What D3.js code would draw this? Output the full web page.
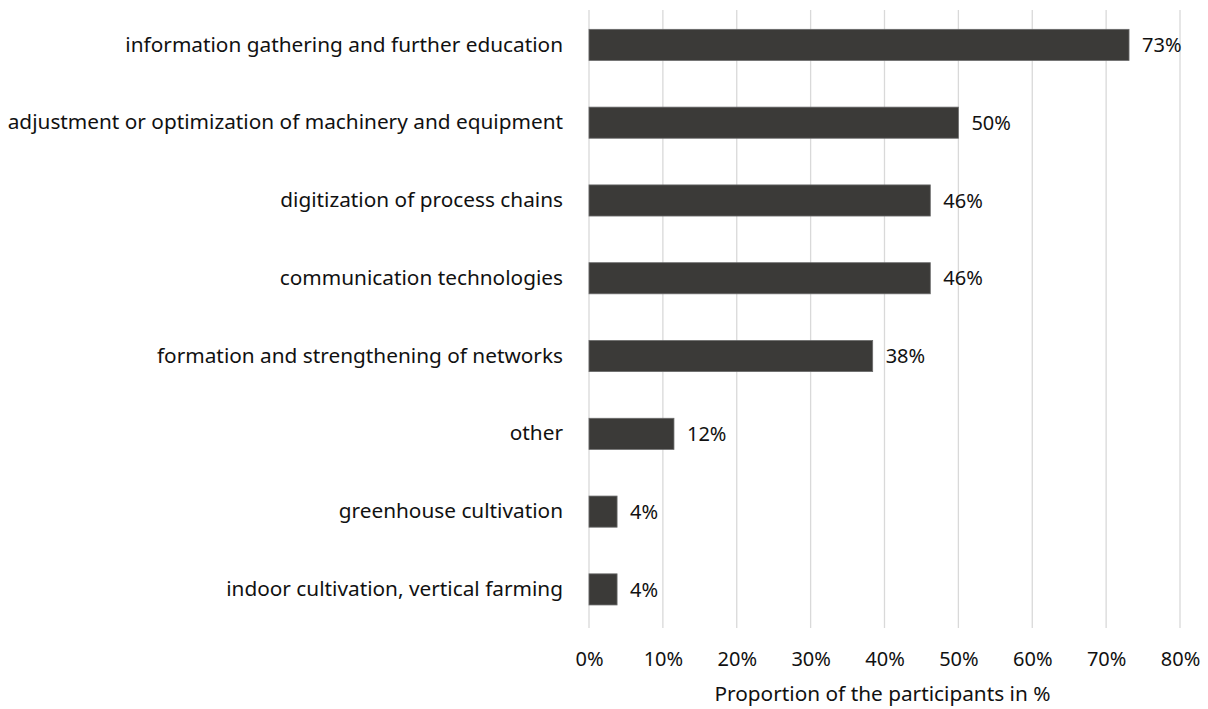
<!DOCTYPE html>
<html><head><meta charset="utf-8">
<script src="https://cdn.jsdelivr.net/npm/d3@7"></script>
<style>body{margin:0;background:#fff}svg{display:block}</style>
</head><body>
<script>
const categories = [
  "information gathering and further education",
  "adjustment or optimization of machinery and equipment",
  "digitization of process chains",
  "communication technologies",
  "formation and strengthening of networks",
  "other",
  "greenhouse cultivation",
  "indoor cultivation, vertical farming"
];
const values = [73.1, 50.0, 46.2, 46.2, 38.4, 11.5, 3.8, 3.8];
const tickValues = [0,10,20,30,40,50,60,70,80];
const axisTitle = "Proportion of the participants in %";

const W = 1208, H = 709;
const plotLeft = 589, plotRight = 1180, gridTop = 10, gridBottom = 628;
const font = "'Noto Sans', 'Open Sans', sans-serif";

const svg = d3.select("body").append("svg").attr("width", W).attr("height", H);
const x = d3.scaleLinear().domain([0,80]).range([plotLeft, plotRight]);
const y = d3.scaleBand().domain(categories).range([6, 628.3]).paddingInner(0.6).paddingOuter(0.3);

// gridlines
svg.append("g").selectAll("line").data(tickValues).join("line")
  .attr("x1", d => x(d)).attr("x2", d => x(d))
  .attr("y1", gridTop).attr("y2", gridBottom)
  .attr("stroke", "#d9d9d9").attr("stroke-width", 1.3);

// bars
svg.append("g").selectAll("rect").data(values).join("rect")
  .attr("x", x(0)).attr("y", (d,i) => y(categories[i]))
  .attr("width", d => x(d) - x(0)).attr("height", y.bandwidth())
  .attr("fill", "#3b3a38").attr("stroke", "#6b6b6b").attr("stroke-width", 0.8);

// value labels
svg.append("g").selectAll("text").data(values).join("text")
  .attr("x", d => x(d) + 13).attr("y", (d,i) => y(categories[i]) + y.bandwidth()/2)
  .attr("dy", "0.36em").attr("font-family", font).attr("font-size", 20).attr("fill", "#111")
  .text(d => Math.round(d) + "%");

// category axis labels
const yAxis = d3.axisLeft(y).tickSize(0).tickPadding(26);
const gy = svg.append("g").attr("transform", `translate(${plotLeft},0)`).call(yAxis);
gy.select(".domain").remove();
gy.selectAll("text").attr("font-family", font).attr("font-size", 20.8).attr("fill", "#111");

// x axis
const xAxis = d3.axisBottom(x).tickValues(tickValues).tickFormat(d => d + "%").tickSize(0).tickPadding(24);
const gx = svg.append("g").attr("transform", `translate(0,${gridBottom})`).call(xAxis);
gx.select(".domain").remove();
gx.selectAll("text").attr("font-family", font).attr("font-size", 20).attr("fill", "#111");

svg.append("text").attr("x", (x(0)+x(80))/2 - 2).attr("y", 701)
  .attr("text-anchor", "middle").attr("font-family", font).attr("font-size", 20.8).attr("fill", "#111")
  .text(axisTitle);
</script>
</body></html>
